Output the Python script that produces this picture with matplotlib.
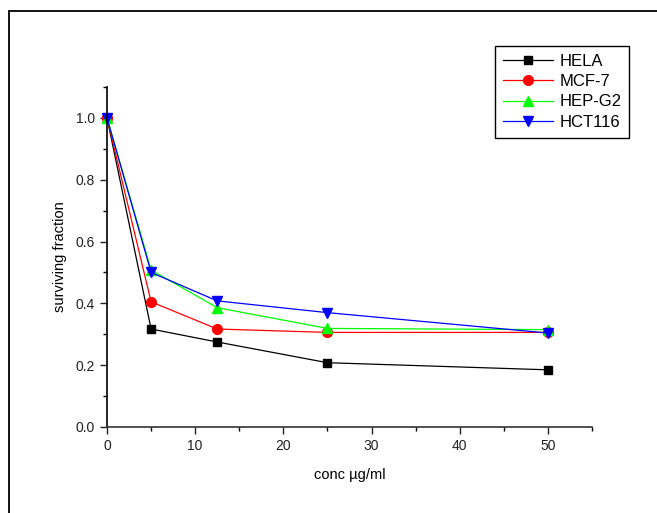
import matplotlib
matplotlib.use("Agg")
import matplotlib.pyplot as plt
from matplotlib.patches import Rectangle
from matplotlib.ticker import MultipleLocator

plt.rcParams['font.family'] = ['Liberation Sans', 'DejaVu Sans']

# concentration (µg/ml) and surviving fraction per cell line
conc = [0, 5, 12.5, 25, 50]
hela = [1.0, 0.317, 0.275, 0.208, 0.185]
mcf7 = [1.0, 0.405, 0.317, 0.306, 0.306]
hepg2 = [1.0, 0.508, 0.386, 0.319, 0.315]
hct116 = [1.0, 0.500, 0.408, 0.370, 0.304]

W, H = 657, 513
fig = plt.figure(figsize=(W / 100, H / 100), dpi=100)

# outer frame (top and left edges visible)
fig.patches.append(Rectangle((9 / W, -0.1), 1.2, 1 - 11 / H + 0.1,
                             transform=fig.transFigure, fill=False,
                             edgecolor='black', linewidth=1.3))

ax = fig.add_axes([107 / W, 1 - 427 / H, (592 - 107) / W, (427 - 87) / H])

ax.plot(conc, hela, color='black', marker='s', ms=6, lw=0.9, label='HELA')
ax.plot(conc, mcf7, color='#ff0000', marker='o', ms=7, lw=0.9, label='MCF-7')
ax.plot(conc, hepg2, color='#00ff00', marker='^', ms=7, lw=0.9, label='HEP-G2')
ax.plot(conc, hct116, color='#0000ff', marker='v', ms=7, lw=0.9, label='HCT116')

ax.set_xlim(0, 55)
ax.set_ylim(0, 1.1)
ax.xaxis.set_major_locator(MultipleLocator(10))
ax.xaxis.set_minor_locator(MultipleLocator(5))
ax.yaxis.set_major_locator(MultipleLocator(0.2))
ax.yaxis.set_minor_locator(MultipleLocator(0.1))
ax.yaxis.set_major_formatter(plt.FormatStrFormatter('%.1f'))

ax.spines['top'].set_visible(False)
ax.spines['right'].set_visible(False)
ax.spines['left'].set_linewidth(1.2)
ax.spines['bottom'].set_linewidth(1.2)
ax.spines['bottom'].set_color('#333333')
ax.tick_params(which='major', direction='out', length=5, width=1, labelsize=10,
               colors='#222222')
ax.tick_params(which='minor', direction='out', length=3, width=1)
for ln in ax.lines:
    ln.set_clip_on(False)

ax.set_xlabel('conc µg/ml', fontsize=10.5, labelpad=11)
ax.set_ylabel('surviving fraction', fontsize=10.5, labelpad=6)

leg = ax.legend(loc='upper left', bbox_to_anchor=(495 / W, 1 - 46 / H),
                bbox_transform=fig.transFigure, borderaxespad=0,
                fancybox=False, edgecolor='black', fontsize=12,
                handlelength=3.0, handletextpad=0.4, labelspacing=0.33,
                borderpad=0.45, framealpha=1)
leg.get_frame().set_linewidth(1.0)

fig.savefig('out.png', dpi=100)
